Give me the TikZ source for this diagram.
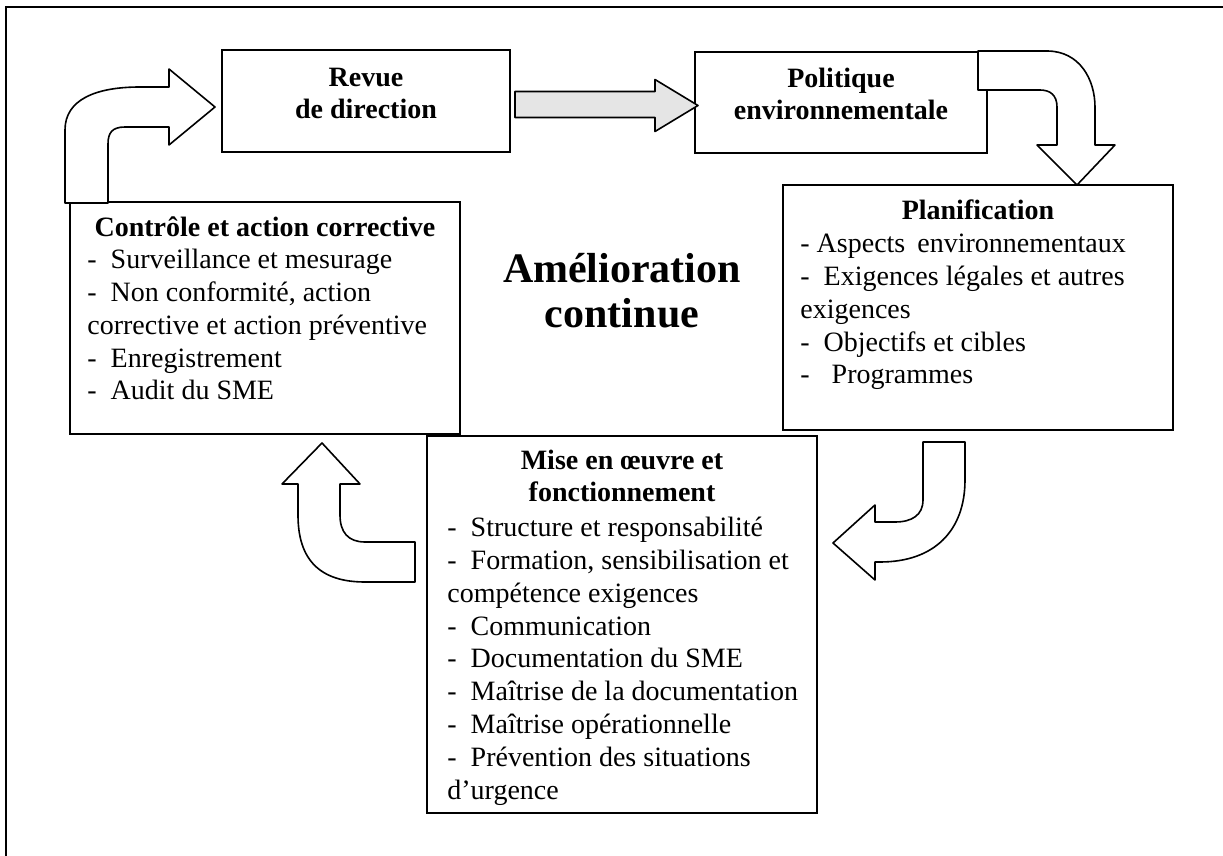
\documentclass[tikz,border=0pt]{standalone}
\usepackage{fontspec}
\setmainfont{Liberation Serif}
\usepackage{tikz}
\usetikzlibrary{calc}
\usetikzlibrary{positioning}
\newcommand{\taille}{\fontsize{14}{16.4}\selectfont}
\newcommand{\tiret}[1][7pt]{-\hspace{#1}}
\newcommand{\cadre}[5]{\node[cadre, minimum width={(#4-#2)*0.5pt}, minimum height={(#5-#3)*0.5pt}] (#1) at ({(#2+#4)/2},{(#3+#5)/2}) {};}
\tikzset{
  cadre/.style={draw, line width=1pt, inner sep=0pt, outer sep=0pt},
  fleche/.style={draw, line width=0.8pt, fill=white, line join=round},
  titre/.style={font=\taille\bfseries, align=center, anchor=base, inner sep=0pt},
  liste/.style={font=\taille, align=left, anchor=base west, inner sep=0pt},
}

\begin{document}
\begin{tikzpicture}[x=0.5pt,y=-0.5pt]
            \useasboundingbox (0,0) rectangle (1223,856);
            % frame
            \draw[line width=1.2pt] (6,856) -- (6,7) -- (1223,7);

            % boxes
            \cadre{revue}{222}{50}{510}{152}
            \cadre{polit}{695}{52}{987}{153}
            \cadre{plan}{783}{185}{1173}{430}
            \cadre{controle}{70}{202}{460}{434}
            \cadre{mise}{427}{436}{817}{813}

            % arrows
            \coordinate (p1) at ([shift={(-7,6)}]revue.west);
            \draw[fleche, shift={(p1)}] (-150,96) -- (-150,23) .. controls (-150,-7) and (-120,-20) .. (-75,-20) -- (-46,-20) -- (-46,-38) -- (0,0) -- (-46,38) -- (-46,20) -- (-90,20) .. controls (-103,20) and (-107,26) .. (-107,37) -- (-107,96) -- cycle;

            \coordinate (p5) at ([shift={(3,3)}]polit.west);
            \draw[fleche, fill=gray!20, shift={(p5)}] (-183,-14) -- (-43,-14) -- (-43,-26) -- (0,0) -- (-43,26) -- (-43,12) -- (-183,12) -- cycle;

            \coordinate (p2) at ([xshift=-48pt]plan.north east);
            \draw[fleche, shift={(p2)}] (-99,-134) -- (-30,-134) .. controls (3,-134) and (18,-105) .. (18,-78) -- (18,-40) -- (38,-40) -- (0,0) -- (-40,-40) -- (-20,-40) -- (-20,-78) .. controls (-20,-90) and (-27,-95) .. (-37,-95) -- (-99,-95) -- cycle;

            \coordinate (p3) at ([shift={(16,107)}]mise.north east);
            \draw[fleche, shift={(p3)}] (90,-101) -- (132,-101) -- (132,-63) .. controls (132,-13) and (102,19) .. (47,19) -- (42,19) -- (42,37) -- (0,0) -- (42,-38) -- (42,-21) -- (62,-21) .. controls (79,-21) and (90,-28) .. (90,-43) -- cycle;

            \coordinate (p4) at ([shift={(252,9)}]controle.south west);
            \draw[fleche, shift={(p4)}] (-24,41) -- (-24,72) .. controls (-24,117) and (-2,139) .. (43,139) -- (93,139) -- (93,99) -- (43,99) .. controls (26,99) and (18,89) .. (18,72) -- (18,41) -- (38,41) -- (0,0) -- (-40,41) -- cycle;

            % texts (base = last line)
            \node[titre] (revuetxt) at (366,119) {Revue\\de direction};
            \node[titre] (polittxt) at (841,120) {Politique\\environnementale};
            \node[titre, font=\fontsize{21}{22.5}\selectfont\bfseries] (amelio) at (622,328) {Amélioration\\continue};

            \node[titre] (plantitre) at (978,220) {Planification};
            \node[liste] (planliste) at (800,384) {\tiret[3.5pt]Aspects\hspace{6pt}environnementaux\\\tiret Exigences légales et autres\\exigences\\\tiret Objectifs et cibles\\\tiret[11pt]Programmes};

            \node[titre] (controletitre) at (265,237) {Contrôle et action corrective};
            \node[liste] (controleliste) at (87,400) {\tiret Surveillance et mesurage\\\tiret Non conformité, action\\corrective et action préventive\\\tiret Enregistrement\\\tiret Audit du SME};

            \node[titre] (misetitre) at (622,502) {Mise en œuvre et\\fonctionnement};
            \node[liste] (miseliste) at (447,799) {\tiret Structure et responsabilité\\\tiret Formation, sensibilisation et\\compétence exigences\\\tiret Communication\\\tiret Documentation du SME\\\tiret Maîtrise de la documentation\\\tiret Maîtrise opérationnelle\\\tiret Prévention des situations\\d’urgence};
        \end{tikzpicture}
\end{document}
